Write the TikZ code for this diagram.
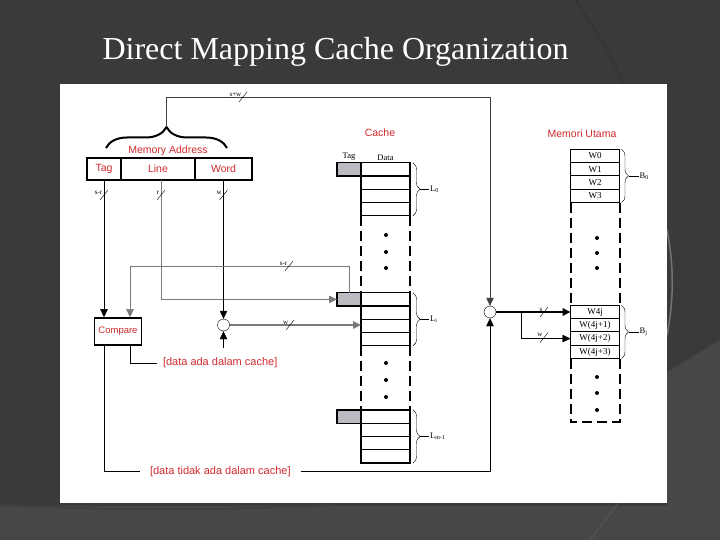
\documentclass[tikz,border=0pt]{standalone}
\usepackage{fontspec}
\setmainfont{Liberation Serif}
\setsansfont{Liberation Sans}
\usetikzlibrary{arrows.meta,decorations.pathreplacing,positioning}

\definecolor{slidebg}{HTML}{3A3A3A}
\definecolor{slidelt}{HTML}{474747}
\definecolor{labelred}{HTML}{D02A2E}
\definecolor{tagfill}{HTML}{BBBBC2}
\definecolor{wire}{HTML}{7A7A7A}

% bus width mark: name, x, y, label
\newcommand{\busmark}[4]{%
  \draw[thin] (#2-4,#3+5) -- (#2+4,#3-5);
  \node (#1) [bw, anchor=south east] at (#2-1,#3) {#4};}

\begin{document}
\begin{tikzpicture}[x=1pt,y=-1pt,>={Triangle[length=8pt,width=7.5pt]}]

\tikzstyle{lbl} = [text=labelred, font=\sffamily\fontsize{10.5}{12}\selectfont, inner sep=1pt]
\tikzstyle{fld} = [rectangle, draw=black, line width=2.2pt, outer sep=0, minimum height=22, inner sep=0, text=labelred, font=\sffamily\fontsize{10.5}{12}\selectfont]
\tikzstyle{cl} = [rectangle, draw=black, line width=1.4pt, outer sep=0, minimum width=49, minimum height=13.25, inner sep=0]
\tikzstyle{tg} = [cl, fill=tagfill, minimum width=24]
\tikzstyle{ml} = [rectangle, draw=black, line width=1pt, outer sep=0, minimum width=49, minimum height=13.3, inner sep=0, font=\fontsize{9}{10}\selectfont]
\tikzstyle{sml} = [font=\fontsize{8.5}{9}\selectfont, inner sep=1pt]
\tikzstyle{bw} = [font=\fontsize{7}{8}\selectfont, inner sep=0.5pt]
\tikzstyle{dsh} = [line width=2pt, dash pattern=on 10pt off 5pt]
\tikzstyle{blob} = [circle, fill=black, inner sep=0, minimum size=4]
\tikzstyle{sel} = [circle, draw=black, thin, inner sep=0, minimum size=12]
\tikzstyle{brc} = [decorate, decoration={brace, amplitude=7pt}, thin]
\tikzstyle{cmpbox} = [rectangle, draw=black, line width=1.6pt, minimum width=47, minimum height=27, text=labelred, font=\sffamily\fontsize{9.5}{10}\selectfont]
\tikzstyle{note} = [text=labelred, font=\sffamily\fontsize{11}{12}\selectfont, inner sep=1pt]

\useasboundingbox (0,0) rectangle (720,540);

% slide
\fill[slidebg] (0,0) rectangle (720,540);
\fill[slidelt] (667,372) -- (720,340) -- (720,540) -- (667,540) -- cycle;
\fill[slidelt] (0,506) rectangle (720,540);
\draw[black!75, line width=2pt] (0,505) .. controls (100,511) and (250,510) .. (330,505);
\draw[black!80, line width=1.2pt] (576,0) .. controls (595,30) and (612,55) .. (623,84);
\draw[black!60] (618,503) -- (590,540);
\draw[black!55, line width=1.5pt] (667,230) .. controls (674,265) and (674,300) .. (667,335);
\fill[white] (60,84) rectangle (667,503);

\node (title) [text=white, font=\fontsize{32}{36}\selectfont, anchor=base] at (335.5,60) {Direct Mapping Cache Organization};

% memory address
\node (maddr) [lbl] at (168,151) {Memory Address};
\node (tagf) [fld, minimum width=34] at (104,169) {Tag};
\node (linef) [fld, minimum width=74] at (158,169) {Line};
\node (wordf) [fld, minimum width=57] at (223.5,169) {Word};
\draw[line width=2pt, decorate, decoration={brace, amplitude=21pt}] (106,148) -- (227,148);
\coordinate (brtip) at (166.5,127);

% cache
\node (cachet) [lbl] at (380,133) {Cache};
\node (tag0) [tg] at (349,169.4) {};
\node (c0a) [cl] at (385.5,169.4) {};
\node (c0b) [cl, below=0pt of c0a] {};
\node (c0c) [cl, below=0pt of c0b] {};
\node (c0d) [cl, below=0pt of c0c] {};
\node (tagh) [sml, above=1pt of tag0] {Tag};
\node (datah) [sml, above=1pt of c0a] {Data};

\node (tag1) [tg] at (349,299.4) {};
\node (c1a) [cl] at (385.5,299.4) {};
\node (c1b) [cl, below=0pt of c1a] {};
\node (c1c) [cl, below=0pt of c1b] {};
\node (c1d) [cl, below=0pt of c1c] {};

\node (tag2) [tg] at (349,416.6) {};
\node (c2a) [cl] at (385.5,416.6) {};
\node (c2b) [cl, below=0pt of c2a] {};
\node (c2c) [cl, below=0pt of c2b] {};
\node (c2d) [cl, below=0pt of c2c] {};

\draw[dsh] (c0d.south west) -- (c1a.north west);
\draw[dsh] (c0d.south east) -- (c1a.north east);
\draw[dsh] (c1d.south west) -- (c2a.north west);
\draw[dsh] (c1d.south east) -- (c2a.north east);
\node (cd1) [blob] at (386,235) {};
\node (cd2) [blob] at (386,252) {};
\node (cd3) [blob] at (386,268) {};
\node (cd4) [blob] at (386,363) {};
\node (cd5) [blob] at (386,380) {};
\node (cd6) [blob] at (386,397) {};

\draw[brc] ([xshift=3]c0a.north east) -- ([xshift=3]c0d.south east);
\node (L0) [sml, anchor=west] at ([xshift=19]c0b.south east) {L\textsubscript{0}};
\draw ([xshift=10]c0b.south east) -- (L0.west);
\draw[brc] ([xshift=3]c1a.north east) -- ([xshift=3]c1d.south east);
\node (Li) [sml, anchor=west] at ([xshift=19]c1b.south east) {L\textsubscript{i}};
\draw ([xshift=10]c1b.south east) -- (Li.west);
\draw[brc] ([xshift=3]c2a.north east) -- ([xshift=3]c2d.south east);
\node (Lm) [sml, anchor=west] at ([xshift=19]c2b.south east) {L\textsubscript{m-1}};
\draw ([xshift=10]c2b.south east) -- (Lm.west);

% main memory
\node (memt) [lbl] at (582,134) {Memori Utama};
\node (m00) [ml] at (595,156) {W0};
\node (m01) [ml, below=0pt of m00] {W1};
\node (m02) [ml, below=0pt of m01] {W2};
\node (m03) [ml, below=0pt of m02] {W3};
\node (mj0) [ml] at (595,312) {W4j};
\node (mj1) [ml, below=0pt of mj0] {W(4j+1)};
\node (mj2) [ml, below=0pt of mj1] {W(4j+2)};
\node (mj3) [ml, below=0pt of mj2] {W(4j+3)};
\coordinate (mbl) at (570.5,421.7);
\coordinate (mbr) at (619.5,421.7);
\draw[dsh] (m03.south west) -- (mj0.north west);
\draw[dsh] (m03.south east) -- (mj0.north east);
\draw[dsh] (mj3.south west) -- (mbl) -- (mbr) -- (mj3.south east);
\node (md1) [blob] at (597,238) {};
\node (md2) [blob] at (597,253) {};
\node (md3) [blob] at (597,268) {};
\node (md4) [blob] at (597,377) {};
\node (md5) [blob] at (597,393) {};
\node (md6) [blob] at (597,410) {};

\draw[brc] ([xshift=2]m00.north east) -- ([xshift=2]m03.south east);
\node (B0) [sml, anchor=west] at ([xshift=19]m01.south east) {B\textsubscript{0}};
\draw ([xshift=9]m01.south east) -- (B0.west);
\draw[brc] ([xshift=2]mj0.north east) -- ([xshift=2]mj3.south east);
\node (Bj) [sml, anchor=west] at ([xshift=19]mj1.south east) {B\textsubscript{j}};
\draw ([xshift=9]mj1.south east) -- (Bj.west);

% compare and selectors
\node (cmp) [cmpbox] at (118,331.5) {Compare};
\node (sel1) [sel] at (223.5,325) {};
\node (sel2) [sel] at (490,312) {};
\node (ada) [note, anchor=west, outer sep=5pt] at (157,363) {[data ada dalam cache]};
\node (tidak) [note, anchor=west, outer sep=9pt] at (140,471.5) {[data tidak ada dalam cache]};

\draw[->, black!75] (brtip) -- ++(0,-30) -| (sel2.north);
\draw[->] (tagf.south) -- (tagf.south |- cmp.north);
\draw[->, wire, line width=1pt] ([xshift=3]linef.south) |- (tag1.west);
\draw[->] (wordf.south) -- (sel1.north);
\draw[->, wire] (tag1.north) -- ++(0,-26.5) -| ([xshift=12]cmp.north);
\draw ([xshift=12]cmp.south) |- (ada.west);
\draw[->] ([yshift=4]ada.north -| sel1) -- (sel1.south);
\draw[->, wire, line width=1.2pt] (sel1.east) -- (sel1.east -| c1c.west);
\draw (tagf.south |- cmp.south) |- (tidak.west);
\draw[->] (tidak.east) -| (sel2.south);
\draw[->, line width=1.8pt] (sel2.east) -- (sel2.east -| mj0.west);
\coordinate (split) at (521,312);
\draw[->] (split) |- (mj2.west);

\busmark{bsw}{243}{97}{s+w}
\busmark{bsr}{104}{195}{s-r}
\busmark{brr}{161}{195}{r}
\busmark{bwd}{223.5}{195}{w}
\busmark{bsr2}{289}{266}{s-r}
\busmark{bwd2}{290}{325}{w}
\busmark{bs3}{544}{312}{s}
\busmark{bwd3}{544}{337.6}{w}

\end{tikzpicture}
\end{document}
